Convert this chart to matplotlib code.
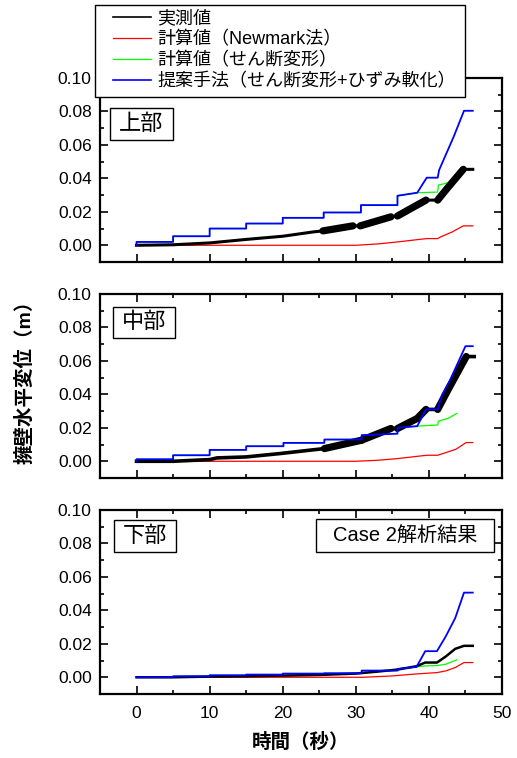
import numpy as np
import matplotlib
matplotlib.use('Agg')
import matplotlib.pyplot as plt
from matplotlib.patches import Rectangle
from matplotlib.lines import Line2D
from matplotlib.ticker import MultipleLocator, FormatStrFormatter

plt.rcParams['font.family'] = ['Liberation Sans', 'Noto Sans CJK JP', 'DejaVu Sans']

# === データ ===
# 上部
t_top_blue = [0, 0, 5, 5, 10, 10, 15, 15, 20, 20, 25.6, 25.6, 30.7, 30.7, 35.7, 35.7, 38.4, 39.7, 41.2, 41.4, 42.8, 43.4, 44.8, 46]
v_top_blue = [0, 0.002, 0.002, 0.0054, 0.0054, 0.010, 0.010, 0.013, 0.013, 0.0164, 0.0164, 0.0196, 0.0196, 0.024, 0.024, 0.0296, 0.0314, 0.0404, 0.0404, 0.045, 0.059, 0.065, 0.0804, 0.0804]
t_top_green = [0, 0, 5, 5, 10, 10, 15, 15, 20, 20, 25.6, 25.6, 30.7, 30.7, 35.7, 35.7, 38.4, 41.2, 41.3, 42.5, 43.5, 43.7]
v_top_green = [0, 0.002, 0.002, 0.0054, 0.0054, 0.010, 0.010, 0.013, 0.013, 0.0164, 0.0164, 0.0196, 0.0196, 0.024, 0.024, 0.0296, 0.0314, 0.0318, 0.036, 0.0372, 0.0394, 0.040]
t_top_black = [0, 5, 10, 15, 20, 24.2, 25.5, 29.6, 30.6, 34.8, 35.7, 39.6, 41.2, 42.5, 44.7, 46]
v_top_black = [0, 0.0003, 0.0014, 0.0035, 0.0054, 0.008, 0.0086, 0.0116, 0.0116, 0.017, 0.0175, 0.027, 0.027, 0.034, 0.0454, 0.0454]
t_top_red = [0, 30, 33, 35.7, 39.7, 41.2, 41.6, 43.2, 44.7, 46]
v_top_red = [0, 0, 0.0008, 0.002, 0.004, 0.004, 0.005, 0.008, 0.0116, 0.0116]
thick_top = [(20.6, 24.2), (25.5, 29.6), (30.6, 34.8), (35.7, 39.6), (41.2, 44.7)]

# 中部
t_mid_blue = [0, 0, 5, 5, 10, 10, 15, 15, 20.1, 20.1, 25.7, 25.7, 30.8, 30.8, 35.7, 35.7, 38.4, 39.6, 41.2, 41.8, 42.9, 45, 46]
v_mid_blue = [0, 0.0012, 0.0012, 0.0036, 0.0036, 0.0068, 0.0068, 0.009, 0.009, 0.011, 0.011, 0.013, 0.013, 0.0156, 0.0165, 0.020, 0.021, 0.031, 0.031, 0.0396, 0.0486, 0.0688, 0.0688]
t_mid_green = [0, 0, 5, 5, 10, 10, 15, 15, 20.1, 20.1, 25.7, 25.7, 30.8, 30.8, 35.7, 35.7, 38.4, 41.2, 41.3, 42.6, 43.8]
v_mid_green = [0, 0.0012, 0.0012, 0.0036, 0.0036, 0.0068, 0.0068, 0.009, 0.009, 0.011, 0.011, 0.013, 0.013, 0.0156, 0.0165, 0.020, 0.021, 0.0217, 0.024, 0.0256, 0.0286]
t_mid_black = [0, 5, 10, 11, 15, 19.6, 25.7, 30.8, 34.8, 35.7, 38.4, 39.6, 41.2, 42.6, 45.1, 46.2]
v_mid_black = [0, 0, 0.001, 0.002, 0.0026, 0.0046, 0.0076, 0.0126, 0.0196, 0.0196, 0.0256, 0.031, 0.031, 0.0426, 0.0626, 0.0626]
t_mid_red = [0, 30, 33, 35.7, 39.7, 41.2, 42.6, 43.7, 45.1, 46]
v_mid_red = [0, 0, 0.0006, 0.0016, 0.0036, 0.0036, 0.0056, 0.0072, 0.0112, 0.0112]
thick_mid = [(25.7, 30.8), (30.8, 34.8), (35.7, 39.6), (41.2, 45.1)]

# 下部
t_bot_blue = [0, 5, 5, 10, 10, 15, 15, 20, 20, 25.7, 25.7, 30.8, 30.8, 35.7, 35.7, 38.3, 39.5, 41.1, 42.3, 43.6, 44.8, 46]
v_bot_blue = [0, 0, 0.0006, 0.0006, 0.0012, 0.0012, 0.0016, 0.0016, 0.0022, 0.0022, 0.0024, 0.0024, 0.004, 0.004, 0.005, 0.0062, 0.0156, 0.0156, 0.0244, 0.0354, 0.0506, 0.0506]
t_bot_green = [0, 5, 5, 10, 10, 15, 15, 20, 20, 25.7, 25.7, 30.8, 30.8, 35.7, 35.7, 38.3, 39.5, 41.1, 42.3, 43.8]
v_bot_green = [0, 0, 0.0006, 0.0006, 0.0012, 0.0012, 0.0016, 0.0016, 0.0022, 0.0022, 0.0024, 0.0024, 0.004, 0.004, 0.005, 0.0062, 0.0068, 0.007, 0.0078, 0.0104]
t_bot_black = [0, 5, 10, 15, 20, 25, 30, 33, 35.7, 38.3, 39.5, 41.1, 42.3, 43.6, 44.8, 46]
v_bot_black = [0, 0, 0.0004, 0.0006, 0.001, 0.0014, 0.0022, 0.0034, 0.0046, 0.0066, 0.0088, 0.0088, 0.0124, 0.017, 0.0188, 0.0188]
t_bot_red = [0, 31, 35, 38.3, 41.1, 42.3, 43.6, 44.8, 46]
v_bot_red = [0, 0, 0.0008, 0.002, 0.0028, 0.0038, 0.0058, 0.0088, 0.0088]
thick_bot = []

labels = ['実測値', '計算値（Newmark法）', '計算値（せん断変形）', '提案手法（せん断変形+ひずみ軟化）']
panel_names = ['上部', '中部', '下部']

W, H = 517, 758
fig = plt.figure(figsize=(W / 100, H / 100), dpi=100)


def px_box(x0, y0, x1, y1):
    # ピクセル座標 -> figure座標
    return [x0 / W, 1 - y1 / H, (x1 - x0) / W, (y1 - y0) / H]


panels = [
    (78, 262, t_top_black, v_top_black, t_top_red, v_top_red, t_top_green, v_top_green, t_top_blue, v_top_blue, thick_top, 2.2),
    (294, 478, t_mid_black, v_mid_black, t_mid_red, v_mid_red, t_mid_green, v_mid_green, t_mid_blue, v_mid_blue, thick_mid, 2.6),
    (510, 694, t_bot_black, v_bot_black, t_bot_red, v_bot_red, t_bot_green, v_bot_green, t_bot_blue, v_bot_blue, thick_bot, 1.8),
]

axes = []
for i, (ytop, ybot, tk, vk, tr, vr, tg, vg, tb, vb, thick, lwk) in enumerate(panels):
    ax = fig.add_axes(px_box(100, ytop, 502, ybot))
    ax.plot(tr, vr, color='#ff0000', lw=0.9, zorder=2)
    ax.plot(tg, vg, color='#00ff00', lw=0.9, zorder=3)
    ax.plot(tk, vk, color='black', lw=lwk, zorder=4)
    tk_a = np.array(tk)
    vk_a = np.array(vk)
    for a, b in thick:
        m = (tk_a >= a) & (tk_a <= b)
        ax.plot(tk_a[m], vk_a[m], color='black', lw=5.2, solid_capstyle='round', zorder=4)
    ax.plot(tb, vb, color='#0000ff', lw=1.3, zorder=5)

    ax.set_xlim(-5, 50)
    ax.set_ylim(-0.01, 0.10)
    ax.xaxis.set_major_locator(MultipleLocator(10))
    ax.xaxis.set_minor_locator(MultipleLocator(5))
    ax.yaxis.set_major_locator(MultipleLocator(0.02))
    ax.yaxis.set_minor_locator(MultipleLocator(0.01))
    ax.yaxis.set_major_formatter(FormatStrFormatter('%.2f'))
    ax.tick_params(which='both', direction='in', top=True, right=True, width=1.2, labelsize=12.5)
    ax.tick_params(which='major', length=6)
    ax.tick_params(which='minor', length=3)
    ax.tick_params(axis='y', pad=6)
    ax.tick_params(axis='x', pad=9)
    if i < 2:
        ax.tick_params(labelbottom=False)
    for s in ax.spines.values():
        s.set_linewidth(1.6)
    axes.append(ax)


def label_box(x0, y0, x1, y1, text, size):
    fig.add_artist(Rectangle((x0 / W, 1 - y1 / H), (x1 - x0) / W, (y1 - y0) / H,
                             transform=fig.transFigure, facecolor='white',
                             edgecolor='black', lw=1.0, zorder=6))
    fig.text((x0 + x1) / 2 / W, 1 - (y0 + y1) / 2 / H, text, ha='center', va='center',
             fontsize=size, zorder=7)


label_box(110, 108, 173, 140, panel_names[0], 16)
label_box(113, 307, 175, 338, panel_names[1], 16)
label_box(114, 520, 176, 552, panel_names[2], 16)
label_box(316, 519, 494, 552, 'Case 2解析結果', 14.5)

# 凡例（枠は手動）
fig.add_artist(Rectangle((95 / W, 1 - 97 / H), 370 / W, 92 / H, transform=fig.transFigure,
                         facecolor='white', edgecolor='black', lw=1.0, zorder=6))
handles = [Line2D([], [], color='black', lw=1.2),
           Line2D([], [], color='#ff0000', lw=0.9),
           Line2D([], [], color='#00ff00', lw=0.9),
           Line2D([], [], color='#0000ff', lw=1.2)]
leg = fig.legend(handles, labels, loc='upper left', bbox_to_anchor=(113 / W, 1 - 10 / H),
                 frameon=False, fontsize=13, handlelength=2.1, handletextpad=0.35,
                 labelspacing=0.22, borderpad=0, borderaxespad=0)
leg.set_zorder(8)

fig.text(25 / W, 1 - 377 / H, '擁壁水平変位（m）', rotation=90, ha='center', va='center',
         fontsize=14, fontweight='bold')
fig.text(301 / W, 1 - 742 / H, '時間（秒）', ha='center', va='center', fontsize=14,
         fontweight='bold')

fig.savefig('out.png', dpi=100)
